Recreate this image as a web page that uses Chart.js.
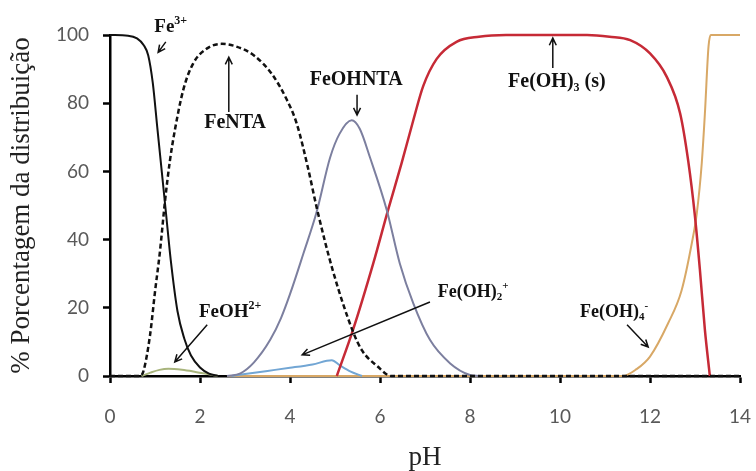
<!DOCTYPE html>
<html>
<head>
<meta charset="utf-8">
<script src="https://cdn.jsdelivr.net/npm/chart.js@4.4.1/dist/chart.umd.min.js"></script>
<style>
  html, body { margin: 0; padding: 0; background: #fff; }
  #wrap { width: 756px; height: 471px; }
</style>
</head>
<body>
<div id="wrap"><canvas id="chart" width="756" height="471"></canvas></div>
<script>
// Species distribution vs pH
const fe3PH = [0, 0.4, 0.6, 0.75, 0.85, 0.95, 1.05, 1.15, 1.25, 1.35, 1.5, 1.65, 1.8, 2.0, 2.2, 2.4];
const fe3Val = [100, 99.8, 99, 97, 94, 86, 73, 60, 47, 34, 19, 11, 6, 2.5, 0.7, 0];

const feNtaPH = [0, 0.65, 0.74, 0.89, 1.0, 1.11, 1.22, 1.33, 1.44, 1.63, 1.85, 2.15, 2.48, 2.81, 3.2, 3.6, 3.93, 4.15, 4.4, 4.6, 4.95, 5.4, 5.6, 5.93, 6.25, 14];
const feNtaVal = [0, 0, 1.3, 12, 24.7, 36.5, 51, 63, 72, 84, 91.7, 96, 97.4, 96.6, 94, 88.5, 81, 74, 61, 49, 31, 13, 7.5, 3, 0, 0];

const feOhNtaPH = [2.6, 2.9, 3.2, 3.56, 3.8, 4.0, 4.3, 4.59, 4.89, 5.1, 5.37, 5.55, 5.78, 6.15, 6.44, 6.74, 7.11, 7.56, 8.0, 8.2];
const feOhNtaVal = [0, 0.8, 4, 10.6, 17, 24, 36, 48, 64, 71, 75, 72.5, 64, 48.7, 33, 21.3, 10.6, 3.7, 0.3, 0];

const feOh3PH = [5.04, 5.4, 5.85, 6.18, 6.48, 6.74, 6.96, 7.26, 7.7, 8.2, 8.8, 10.6, 11.1, 11.56, 12.0, 12.37, 12.67, 12.85, 13.0, 13.11, 13.22, 13.33];
const feOh3Val = [0, 13.5, 33, 48.7, 62.4, 75, 85, 93, 98, 99.5, 100, 100, 99.5, 98.5, 94.6, 87.8, 77, 63, 46.7, 31, 13.5, 0];

const feOh4PH = [2.6, 11.4, 11.7, 12.0, 12.4, 12.7, 12.93, 13.04, 13.15, 13.22, 13.3, 13.35, 14];
const feOh4Val = [0, 0, 2, 5.7, 15.4, 25, 39, 47.7, 62.4, 77, 96.6, 100, 100];

const feOhPH = [0.7, 0.9, 1.1, 1.3, 1.6, 1.9, 2.2, 2.4];
const feOhVal = [0, 1, 1.8, 2.1, 1.8, 1.2, 0.5, 0];

const feOh2PH = [2.7, 3.0, 3.5, 4.0, 4.5, 4.93, 5.1, 5.35, 5.6];
const feOh2Val = [0, 0.6, 1.5, 2.4, 3.4, 4.6, 3.2, 1.3, 0];

const xTicks = [0, 2, 4, 6, 8, 10, 12, 14];
const yTicks = [0, 20, 40, 60, 80, 100];

function pts(xs, ys) {
  return xs.map((x, i) => ({ x: x, y: ys[i] }));
}

// Labels with arrows, placed in data units
const notes = [
  { parts: [['Fe'], ['3+', 'sup']], at: [1.35, 102.3], size: 19, arrow: [[1.24, 98.0], [1.07, 94.9]] },
  { parts: [['FeNTA']], at: [2.78, 74.2], size: 20, arrow: [[2.64, 77.4], [2.64, 93.5]] },
  { parts: [['FeOHNTA']], at: [5.47, 86.8], size: 20, arrow: [[5.49, 82.5], [5.49, 76.5]] },
  { parts: [['Fe(OH)'], ['3', 'sub'], [' (s)']], at: [9.93, 86.2], size: 20, arrow: [[9.84, 90.3], [9.84, 99.1]] },
  { parts: [['Fe(OH)'], ['2', 'sub'], ['+', 'sup']], at: [8.07, 24.6], size: 18, arrow: [[7.11, 21.7], [4.27, 6.2]] },
  { parts: [['FeOH'], ['2+', 'sup']], at: [2.67, 18.8], size: 19, arrow: [[2.16, 15], [1.44, 4.1]] },
  { parts: [['Fe(OH)'], ['4', 'sub'], ['-', 'sup']], at: [11.2, 18.8], size: 18, arrow: [[11.49, 15], [11.96, 8.5]] }
];

function drawRich(ctx, parts, cx, cy, size) {
  const pieces = parts.map(p => {
    const small = p[1] ? Math.round(size * 0.62) : size;
    ctx.font = 'bold ' + small + 'px "Liberation Serif"';
    return { t: p[0], kind: p[1], s: small, w: ctx.measureText(p[0]).width };
  });
  const total = pieces.reduce((a, p) => a + p.w, 0);
  let x = cx - total / 2;
  ctx.textAlign = 'left';
  ctx.textBaseline = 'middle';
  pieces.forEach(p => {
    ctx.font = 'bold ' + p.s + 'px "Liberation Serif"';
    let dy = 0;
    if (p.kind === 'sup') dy = -size * 0.32;
    if (p.kind === 'sub') dy = size * 0.3;
    ctx.fillText(p.t, x, cy + dy);
    x += p.w;
  });
}

function drawArrow(ctx, x1, y1, x2, y2) {
  const ang = Math.atan2(y2 - y1, x2 - x1);
  const head = 8;
  ctx.beginPath();
  ctx.moveTo(x1, y1);
  ctx.lineTo(x2, y2);
  ctx.moveTo(x2 - head * Math.cos(ang - 0.45), y2 - head * Math.sin(ang - 0.45));
  ctx.lineTo(x2, y2);
  ctx.lineTo(x2 - head * Math.cos(ang + 0.45), y2 - head * Math.sin(ang + 0.45));
  ctx.stroke();
}

const notesPlugin = {
  id: 'notes',
  afterDatasetsDraw(chart) {
    const ctx = chart.ctx;
    const xs = chart.scales.x, ys = chart.scales.y;
    ctx.save();
    ctx.fillStyle = '#111';
    ctx.strokeStyle = '#111';
    ctx.lineWidth = 1.5;
    notes.forEach(n => {
      drawRich(ctx, n.parts, xs.getPixelForValue(n.at[0]), ys.getPixelForValue(n.at[1]), n.size);
      const a = n.arrow;
      drawArrow(ctx,
        xs.getPixelForValue(a[0][0]), ys.getPixelForValue(a[0][1]),
        xs.getPixelForValue(a[1][0]), ys.getPixelForValue(a[1][1]));
    });
    ctx.restore();
  }
};

function series(label, xs, ys, color, width, dash) {
  return {
    label: label,
    data: pts(xs, ys),
    borderColor: color,
    borderWidth: width,
    borderDash: dash || [],
    pointRadius: 0,
    fill: false,
    cubicInterpolationMode: 'monotone',
    clip: false
  };
}

new Chart(document.getElementById('chart'), {
  type: 'line',
  data: {
    datasets: [
      series('FeNTA', feNtaPH, feNtaVal, '#111', 2.5, [5, 3]),
      series('Fe3+', fe3PH, fe3Val, '#111', 2),
      series('FeOHNTA', feOhNtaPH, feOhNtaVal, '#7c7f9f', 2),
      series('Fe(OH)3 (s)', feOh3PH, feOh3Val, '#c62a36', 2.5),
      series('FeOH2+', feOhPH, feOhVal, '#a8b47c', 2),
      series('Fe(OH)2+', feOh2PH, feOh2Val, '#72a6d4', 2),
      series('Fe(OH)4-', feOh4PH, feOh4Val, '#d8a866', 2)
    ]
  },
  options: {
    responsive: false,
    animation: false,
    layout: { padding: { top: 35, right: 16, left: 0, bottom: 0 } },
    plugins: { legend: { display: false }, tooltip: { enabled: false } },
    scales: {
      x: {
        type: 'linear',
        min: 0,
        max: 14,
        afterBuildTicks: s => { s.ticks = xTicks.map(v => ({ value: v })); },
        afterFit: s => { s.height = 95; s.paddingRight = 0; s.paddingLeft = 0; },
        border: { color: '#000', width: 2.5 },
        grid: { drawOnChartArea: false, drawTicks: true, tickLength: 7, tickWidth: 2.5, color: '#000' },
        ticks: { padding: 22, color: '#595959', font: { family: 'Lato', size: 19 } },
        title: {
          display: true,
          text: 'pH',
          color: '#222',
          padding: 0,
          font: { family: 'Liberation Serif', size: 27, lineHeight: 1 }
        }
      },
      y: {
        min: 0,
        max: 100,
        afterBuildTicks: s => { s.ticks = yTicks.map(v => ({ value: v })); },
        afterFit: s => { s.width = 110; },
        border: { color: '#000', width: 2.5 },
        grid: { drawOnChartArea: false, drawTicks: true, tickLength: 7, tickWidth: 2.5, color: '#000' },
        ticks: { padding: 14, color: '#595959', font: { family: 'Lato', size: 19 } },
        title: {
          display: true,
          text: '% Porcentagem da distribuição',
          color: '#222',
          padding: { top: 8, bottom: 0 },
          font: { family: 'Liberation Serif', size: 27, lineHeight: 1 }
        }
      }
    }
  },
  plugins: [notesPlugin]
});
</script>
</body>
</html>
